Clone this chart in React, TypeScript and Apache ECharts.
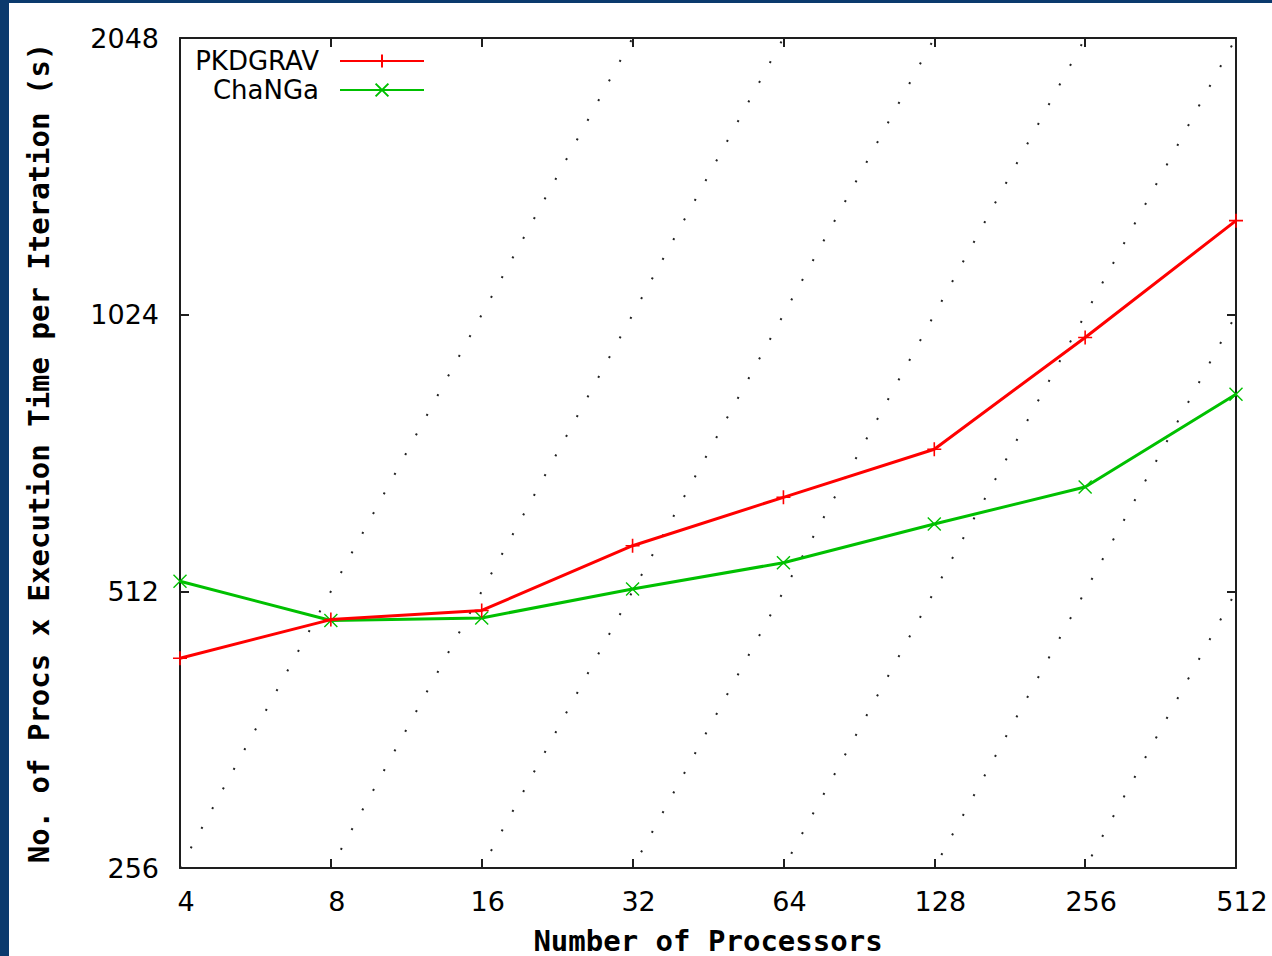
import React, { useEffect, useRef } from 'react';
import * as echarts from 'echarts';

// Number of processors (x axis, log2)
const processors = [4, 8, 16, 32, 64, 128, 256, 512];
// No. of procs x execution time per iteration (s)
const pkdgrav = [433, 477, 488, 574, 648, 731, 967, 1296];
const changa = [525, 476, 479, 515, 550, 606, 665, 839];
// Constant execution-time-per-iteration reference lines (s)
const isoTimes = [64, 32, 16, 8, 4, 2, 1];
// Axis extents
const xMin = 4;
const xMax = 512;
const yMin = 256;
const yMax = 2048;

const tickFont = 'DejaVu Sans';
const titleFont = 'DejaVu Sans Mono';
const frame = '#1e1e1e';

export default function App() {
  const ref = useRef<HTMLDivElement>(null);

  useEffect(() => {
    const chart = echarts.init(ref.current as HTMLDivElement, null, { renderer: 'svg' });

    const tickStyle = { inside: true, length: 9, lineStyle: { color: frame, width: 2 } };
    const lineAxis = { show: true, onZero: false, lineStyle: { color: frame, width: 2 } };

    const isoSeries = isoTimes.map((t) => ({
      type: 'line',
      name: 'iso' + t,
      data: [xMin, xMax].map((p) => [p, p * t]),
      showSymbol: false,
      symbol: 'none',
      silent: true,
      clip: true,
      z: 1,
      lineStyle: { color: '#222', width: 2, type: [2, 20.4] },
      legendHoverLink: false,
    }));

    chart.setOption({
      animation: false,
      backgroundColor: '#ffffff',
      grid: {
        left: 171,
        top: 35,
        right: 36,
        bottom: 88,
        show: false,
        containLabel: false,
        outerBoundsMode: 'none',
      },
      legend: [
        {
          data: ['PKDGRAV'],
          right: 847,
          top: 45,
          orient: 'vertical',
          align: 'right',
          padding: 0,
          itemWidth: 84,
          itemHeight: 16,
          selectedMode: false,
          textStyle: { fontFamily: tickFont, fontSize: 26, color: '#000', lineHeight: 26, padding: [0, 16, 0, 0] },
        },
        {
          data: ['ChaNGa'],
          right: 847,
          top: 74,
          orient: 'vertical',
          align: 'right',
          padding: 0,
          itemWidth: 84,
          itemHeight: 16,
          selectedMode: false,
          textStyle: { fontFamily: tickFont, fontSize: 26, color: '#000', lineHeight: 26, padding: [0, 16, 0, 0] },
        },
      ],
      xAxis: [
        {
          type: 'log',
          logBase: 2,
          min: xMin,
          max: xMax,
          interval: 1,
          position: 'bottom',
          name: 'Number of Processors',
          nameLocation: 'middle',
          nameGap: 58,
          nameTextStyle: { fontFamily: titleFont, fontSize: 29, lineHeight: 29, fontWeight: 'bold', color: '#000' },
          axisLine: lineAxis,
          axisTick: tickStyle,
          splitLine: { show: false },
          axisLabel: {
            fontFamily: tickFont,
            fontSize: 27,
            color: '#000',
            margin: 20,
            padding: [0, 0, 0, 12],
            formatter: (v: number) => String(Math.round(v)),
          },
        },
        {
          type: 'log',
          logBase: 2,
          min: xMin,
          max: xMax,
          interval: 1,
          position: 'top',
          axisLine: lineAxis,
          axisTick: tickStyle,
          splitLine: { show: false },
          axisLabel: { show: false },
        },
      ],
      yAxis: [
        {
          type: 'log',
          logBase: 2,
          min: yMin,
          max: yMax,
          interval: 1,
          position: 'left',
          name: 'No. of Procs x Execution Time per Iteration (s)',
          nameLocation: 'middle',
          nameGap: 127,
          nameTextStyle: { fontFamily: titleFont, fontSize: 29, fontWeight: 'bold', color: '#000' },
          axisLine: lineAxis,
          axisTick: tickStyle,
          splitLine: { show: false },
          axisLabel: {
            fontFamily: tickFont,
            fontSize: 27,
            color: '#000',
            margin: 21,
            formatter: (v: number) => String(Math.round(v)),
          },
        },
        {
          type: 'log',
          logBase: 2,
          min: yMin,
          max: yMax,
          interval: 1,
          position: 'right',
          axisLine: lineAxis,
          axisTick: tickStyle,
          splitLine: { show: false },
          axisLabel: { show: false },
        },
      ],
      series: [
        ...isoSeries,
        {
          type: 'line',
          name: 'PKDGRAV',
          data: processors.map((p, i) => [p, pkdgrav[i]]),
          symbol: 'path://M0,7H14M7,0V14',
          symbolSize: 14,
          showAllSymbol: true,
          z: 3,
          lineStyle: { color: '#ff0000', width: 3 },
          itemStyle: { color: '#ff0000', borderColor: '#ff0000', borderWidth: 1.6 },
        },
        {
          type: 'line',
          name: 'ChaNGa',
          data: processors.map((p, i) => [p, changa[i]]),
          symbol: 'path://M0,0L12,12M12,0L0,12',
          symbolSize: 13,
          showAllSymbol: true,
          z: 2,
          lineStyle: { color: '#00c000', width: 3 },
          itemStyle: { color: '#00c000', borderColor: '#00c000', borderWidth: 1.4 },
        },
      ],
    });

    return () => chart.dispose();
  }, []);

  return (
    <div
      style={{
        position: 'fixed',
        left: 0,
        top: 0,
        width: 1272,
        height: 956,
        background: '#0b3a6d',
        overflow: 'hidden',
      }}
    >
      <div
        ref={ref}
        style={{ position: 'absolute', left: 9, top: 3, width: 1263, height: 953, background: '#ffffff' }}
      />
    </div>
  );
}
